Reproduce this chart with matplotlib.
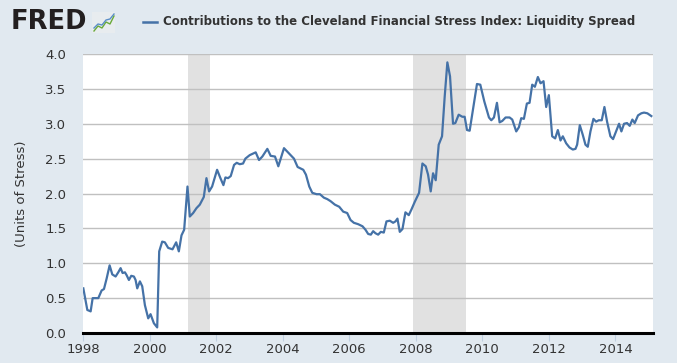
import matplotlib
matplotlib.use("Agg")
import matplotlib.pyplot as plt
from matplotlib.lines import Line2D
from matplotlib.patches import Rectangle

# ---- data (decimal years, units of stress) ----
dates = [
    1998.01, 1998.13, 1998.23, 1998.29, 1998.46, 1998.56, 1998.63, 1998.71, 1998.80, 1998.88,
    1998.98, 1999.06, 1999.13, 1999.19, 1999.26, 1999.31, 1999.38, 1999.45, 1999.53, 1999.58,
    1999.63, 1999.71, 1999.78, 1999.86, 1999.96, 2000.03, 2000.13, 2000.23, 2000.29, 2000.38,
    2000.46, 2000.56, 2000.69, 2000.80, 2000.88, 2000.96, 2001.04, 2001.14, 2001.21, 2001.31,
    2001.41, 2001.51, 2001.63, 2001.71, 2001.79, 2001.88, 2002.03, 2002.13, 2002.22, 2002.28,
    2002.36, 2002.44, 2002.54, 2002.62, 2002.71, 2002.81, 2002.88, 2003.01, 2003.19, 2003.29,
    2003.39, 2003.54, 2003.64, 2003.77, 2003.87, 2004.04, 2004.20, 2004.34, 2004.45, 2004.62,
    2004.70, 2004.80, 2004.89, 2005.02, 2005.12, 2005.24, 2005.34, 2005.44, 2005.57, 2005.70,
    2005.82, 2005.94, 2006.04, 2006.14, 2006.27, 2006.40, 2006.49, 2006.57, 2006.65, 2006.72,
    2006.79, 2006.87, 2006.95, 2007.04, 2007.12, 2007.22, 2007.32, 2007.39, 2007.45, 2007.52,
    2007.60, 2007.69, 2007.79, 2007.87, 2007.97, 2008.10, 2008.20, 2008.30, 2008.37, 2008.45,
    2008.52, 2008.60, 2008.69, 2008.79, 2008.87, 2008.95, 2009.03, 2009.12, 2009.19, 2009.29,
    2009.40, 2009.47, 2009.54, 2009.62, 2009.72, 2009.84, 2009.94, 2010.06, 2010.20, 2010.27,
    2010.35, 2010.44, 2010.52, 2010.60, 2010.70, 2010.82, 2010.90, 2011.02, 2011.10, 2011.17,
    2011.25, 2011.34, 2011.42, 2011.50, 2011.58, 2011.67, 2011.75, 2011.84, 2011.92, 2012.00,
    2012.10, 2012.19, 2012.27, 2012.35, 2012.42, 2012.52, 2012.62, 2012.72, 2012.80, 2012.85,
    2012.93, 2013.02, 2013.10, 2013.17, 2013.25, 2013.34, 2013.42, 2013.50, 2013.59, 2013.67,
    2013.75, 2013.85, 2013.93, 2014.03, 2014.11, 2014.18, 2014.26, 2014.35, 2014.43, 2014.51,
    2014.58, 2014.68, 2014.78, 2014.86, 2014.96, 2015.08,
]
values = [
    0.64, 0.33, 0.31, 0.50, 0.50, 0.61, 0.63, 0.78, 0.97, 0.84,
    0.81, 0.87, 0.93, 0.86, 0.87, 0.83, 0.76, 0.82, 0.81, 0.76,
    0.64, 0.74, 0.67, 0.40, 0.21, 0.27, 0.14, 0.08, 1.17, 1.31,
    1.30, 1.22, 1.20, 1.30, 1.17, 1.40, 1.48, 2.10, 1.67, 1.72,
    1.79, 1.84, 1.95, 2.22, 2.03, 2.10, 2.34, 2.22, 2.12, 2.23,
    2.22, 2.25, 2.41, 2.44, 2.42, 2.43, 2.50, 2.55, 2.59, 2.48,
    2.53, 2.64, 2.54, 2.53, 2.39, 2.65, 2.57, 2.50, 2.38, 2.34,
    2.27, 2.10, 2.01, 1.99, 1.99, 1.94, 1.92, 1.89, 1.84, 1.81,
    1.74, 1.72, 1.62, 1.58, 1.56, 1.53, 1.48, 1.42, 1.41, 1.46,
    1.43, 1.41, 1.45, 1.44, 1.60, 1.61, 1.58, 1.60, 1.64, 1.45,
    1.49, 1.73, 1.69, 1.77, 1.88, 2.01, 2.43, 2.39, 2.27, 2.03,
    2.29, 2.19, 2.70, 2.82, 3.39, 3.88, 3.68, 3.00, 3.01, 3.13,
    3.10, 3.10, 2.91, 2.90, 3.20, 3.57, 3.56, 3.32, 3.09, 3.05,
    3.09, 3.30, 3.02, 3.04, 3.09, 3.09, 3.06, 2.89, 2.95, 3.08,
    3.07, 3.29, 3.30, 3.56, 3.53, 3.67, 3.58, 3.61, 3.24, 3.41,
    2.82, 2.79, 2.91, 2.76, 2.82, 2.72, 2.66, 2.63, 2.64, 2.70,
    2.98, 2.84, 2.70, 2.67, 2.89, 3.07, 3.03, 3.05, 3.05, 3.24,
    3.03, 2.82, 2.78, 2.90, 3.00, 2.89, 3.00, 3.01, 2.97, 3.06,
    3.01, 3.12, 3.15, 3.16, 3.15, 3.11,
]
recessions = [(2001.17, 2001.83), (2007.92, 2009.50)]
xticks = [1998, 2000, 2002, 2004, 2006, 2008, 2010, 2012, 2014]
yticks = [0.0, 0.5, 1.0, 1.5, 2.0, 2.5, 3.0, 3.5, 4.0]
title = "Contributions to the Cleveland Financial Stress Index: Liquidity Spread"
ylabel = "(Units of Stress)"

BG = "#e1e9f0"
LINE = "#4572a7"
TXT = "#333333"

W, H = 677, 363
fig = plt.figure(figsize=(W / 100, H / 100), dpi=100, facecolor=BG)
ax = fig.add_axes([83 / W, 1 - 333 / H, (653 - 83) / W, (333 - 54) / H])
ax.set_facecolor("white")

for a, b in recessions:
    ax.axvspan(a, b, color="#e1e1e1", lw=0, zorder=0)

ax.set_ylim(0, 4.0)
ax.set_xlim(1998.0, 2015.13)
ax.set_yticks(yticks)
ax.set_yticklabels([f"{v:.1f}" for v in yticks])
ax.set_xticks(xticks)
ax.set_xticklabels([str(t) for t in xticks])
ax.grid(axis="y", color="#c0c0c0", lw=1.0, zorder=1)
ax.grid(axis="x", visible=False)

ax.plot(dates, values, color=LINE, lw=1.6, zorder=3, solid_joinstyle="round")

for s in ["top", "right", "left"]:
    ax.spines[s].set_visible(False)
ax.spines["bottom"].set_color("black")
ax.spines["bottom"].set_linewidth(2.2)
ax.spines["bottom"].set_zorder(4)

ax.tick_params(axis="y", length=0, pad=12, labelsize=9.5, labelcolor=TXT)
ax.tick_params(axis="x", length=6, width=0.8, color="#c0d0e0", pad=1,
               labelsize=9.5, labelcolor=TXT)

fig.text(22 / W, 1 - 194 / H, ylabel, rotation=90, ha="center", va="center",
         fontsize=9.5, color=TXT)

# header: FRED logo and legend/title
fig.text(11 / W, 1 - 22 / H, "FRED", fontsize=18.5, fontweight="heavy",
         color="#231f20", ha="left", va="center", family="DejaVu Sans")
ix0, iy0, iw, ih = 92, 12, 23, 21
fig.patches.append(Rectangle((ix0 / W, 1 - (iy0 + ih) / H), iw / W, ih / H,
                             transform=fig.transFigure, facecolor="#e8ecef",
                             edgecolor="none"))
gx = [94, 98, 102, 106, 110, 114]
gy = [31, 26, 28, 22, 24, 16]
fig.lines.append(Line2D([x / W for x in gx], [1 - y / H for y in gy],
                        transform=fig.transFigure, color="#6aaa3a", lw=1.0))
by = [28, 24, 25, 20, 19, 14]
fig.lines.append(Line2D([x / W for x in gx], [1 - y / H for y in by],
                        transform=fig.transFigure, color="#5b8ec7", lw=1.0))

fig.lines.append(Line2D([143 / W, 157 / W], [1 - 22 / H, 1 - 22 / H],
                        transform=fig.transFigure, color=LINE, lw=1.8))
t = fig.text(163 / W, 1 - 22 / H, title, fontsize=9.5, fontweight="bold",
             color=TXT, ha="left", va="center", family="DejaVu Sans")
fig.canvas.draw()
wpx = t.get_window_extent().width
target = 640 - 163
t.set_fontsize(9.5 * target / wpx)

fig.savefig("out.png", dpi=100, facecolor=BG)
